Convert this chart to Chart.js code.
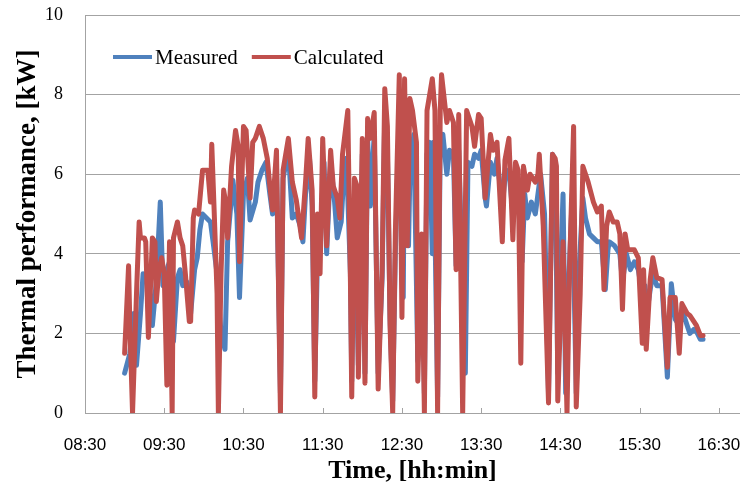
<!DOCTYPE html>
<html>
<head>
<meta charset="utf-8">
<script src="https://cdn.jsdelivr.net/npm/chart.js@4.4.1/dist/chart.umd.min.js"></script>
<style>
  html, body { margin: 0; padding: 0; background: #fff; }
  #wrap { width: 740px; height: 493px; }
</style>
</head>
<body>
<div id="wrap"><canvas id="chart" width="740" height="493"></canvas></div>
<script>
// time in minutes after midnight, power in kW
const calcTime = [
  540,543,544,546,549,551,552,555,556,558,
  560,561,563,564,566,568,570,572,574,576,
  577,580,582,584,586,589,590,592,593,596,
  599,602,603,605,606,608,610,611,613,615,
  617,618,621,624,626,627,630,632,635,637,
  639,642,645,648,650,652,655,658,660,664,
  667,670,674,677,679,682,684,686,688,690,
  693,696,698,701,703,705,709,711,712,714,
  716,717,720,722,724,726,729,732,735,737,
  739,741,743,745,748,750,752,754,756,758,
  761,762,765,767,769,771,773,775,777,779,
  780,783,784,786,789,791,793,796,799,803,
  805,808,810,813,817,819,822,826,828,831,
  834,836,838,840,842,845,847,851,853,854,
  857,861,864,866,867,868,872,875,877,880,
  882,885,887,891,895,898,901,903,905,907,
  910,913,915,917,919,921,926,929,932,933,
  935,938,940,943,947,951,953,957,960,962,
  966,968,970,973,976,978
];
const calcKW = [
  1.5,3.7,2.2,0,3.0,4.8,4.4,4.4,4.3,1.9,
  3.5,4.4,4.3,2.8,3.6,3.9,3.5,0.7,4.3,0,
  4.4,4.8,4.4,4.2,3.5,2.3,2.3,4.9,5.1,5.0,
  6.1,6.1,6.1,5.3,6.75,4.9,3.0,0,3.5,5.6,
  5.2,4.4,6.2,7.1,6.7,3.8,7.2,7.1,5.4,6.8,
  6.9,7.2,6.9,6.4,5.7,5.1,6.6,0,6.1,6.9,
  5.8,5.35,4.4,5.8,6.9,5.6,0.4,5.0,3.5,6.9,
  4.2,6.6,5.7,5.4,4.9,6.5,7.6,3.3,0.4,5.9,
  5.7,0.9,6.9,0.75,7.4,6.9,7.55,0.6,3.6,8.15,
  7.2,2.2,0,4.5,8.5,2.4,8.4,4.2,7.9,7.6,
  6.8,0.8,4.5,0,7.6,8.0,8.4,7.6,0,7.6,
  8.5,7.6,7.3,7.6,7.3,3.6,7.5,0,7.6,7.2,
  6.7,7.5,7.4,5.4,7.0,6.6,6.8,4.3,6.35,6.9,
  4.35,6.3,6.1,1.25,6.2,5.6,6.0,5.8,6.0,6.5,
  4.7,0.25,6.5,6.4,6.2,0.3,4.3,0,3.7,7.2,
  0.15,3.0,6.2,5.8,5.3,5.05,5.2,3.1,4.7,5.05,
  4.8,4.8,4.5,2.6,4.5,4.1,4.1,3.9,1.75,3.6,
  1.6,3.35,3.9,3.4,3.35,1.15,2.9,2.9,1.5,2.75,
  2.5,2.45,2.35,2.2,1.95,1.95
];
const measTime = [
  540,544,547,549,552,554,556,558,561,564,
  567,569,571,574,577,580,582,584,587,590,
  593,595,597,599,602,605,607,610,613,616,
  618,622,625,627,630,633,635,639,641,644,
  647,650,652,655,658,660,664,667,670,673,
  675,677,680,682,684,686,689,691,693,696,
  699,701,704,706,708,711,712,714,717,720,
  722,724,726,729,732,735,737,739,741,743,
  745,748,751,752,755,756,759,762,765,767,
  769,771,773,774,777,779,781,784,786,789,
  791,793,798,800,803,805,808,810,813,814,
  817,820,822,826,828,831,834,836,839,841,
  843,845,848,851,853,855,858,861,864,866,
  868,870,872,874,876,879,882,884,887,889,
  892,895,898,901,904,906,907,911,915,917,
  920,923,926,929,932,934,935,938,940,943,
  947,951,954,957,960,963,966,968,971,973,
  976,978
];
const measKW = [
  1.0,1.5,2.5,1.2,2.5,3.5,3.3,3.6,2.2,3.3,
  5.3,3.2,3.5,3.8,1.8,3.4,3.6,3.2,3.3,2.5,
  3.6,3.9,4.6,5.0,4.9,4.8,4.3,3.5,2.0,1.6,
  4.3,5.85,5.0,2.9,5.5,5.9,4.85,5.3,5.8,6.1,
  6.3,5.5,5.0,6.2,0.5,5.9,6.6,4.9,5.0,4.7,
  4.3,5.5,6.4,5.2,0.8,3.85,5.0,6.3,4.0,6.3,
  5.3,4.4,4.8,6.0,6.4,3.5,0.8,5.5,1.2,6.5,
  1.0,6.9,5.2,7.0,1.0,3.4,7.5,6.5,2.4,0.3,
  4.0,7.5,2.9,7.5,4.2,6.0,7.0,1.3,4.3,0.5,
  6.5,6.8,4.0,6.8,0.4,6.8,7.0,6.0,6.6,6.5,
  3.7,6.6,1.0,6.3,6.2,6.5,6.4,6.6,5.4,5.2,
  6.3,6.0,6.4,5.2,5.9,6.1,5.0,5.7,5.8,3.8,
  5.5,4.9,5.3,5.0,5.5,6.0,5.0,0.5,6.5,6.3,
  1.0,3.5,5.5,0.5,3.0,5.5,0.5,3.5,5.4,4.9,
  4.5,4.4,4.3,4.3,3.1,4.1,4.3,4.2,4.0,3.3,
  4.0,3.6,3.8,3.6,3.0,3.2,2.4,3.1,3.5,3.2,
  3.2,0.9,3.25,2.35,2.2,2.5,2.2,2.0,2.1,2.05,
  1.85,1.85
];
const tickTimes = [510, 570, 630, 690, 750, 810, 870, 930, 990];
const seriesNames = ['Measured', 'Calculated'];
const seriesColors = ['#4F81BD', '#C0504D'];

const gridColor = '#a3a3a3';
const serif = '"Liberation Serif", "Times New Roman", serif';

function hhmm(m) {
  const h = Math.floor(m / 60), mm = m % 60;
  return String(h).padStart(2, '0') + ':' + String(mm).padStart(2, '0');
}

const insideLegend = {
  id: 'insideLegend',
  afterDraw(chart) {
    const ctx = chart.ctx;
    ctx.save();
    ctx.font = '21px ' + serif;
    ctx.textBaseline = 'middle';
    let x = chart.chartArea.left + 28;
    const y = chart.chartArea.top + 42;
    seriesNames.forEach((name, i) => {
      ctx.strokeStyle = seriesColors[i];
      ctx.lineWidth = 4;
      ctx.beginPath();
      ctx.moveTo(x, y);
      ctx.lineTo(x + 39, y);
      ctx.stroke();
      ctx.fillStyle = '#000';
      ctx.fillText(name, x + 42, y + 1);
      x += 42 + ctx.measureText(name).width + 14;
    });
    ctx.restore();
  }
};

// small tick marks pointing up into the plot
const innerTicks = {
  id: 'innerTicks',
  beforeDatasetsDraw(chart) {
    const xs = chart.scales.x, ctx = chart.ctx;
    const bottom = chart.chartArea.bottom;
    ctx.save();
    ctx.strokeStyle = gridColor;
    ctx.lineWidth = 1;
    tickTimes.forEach(t => {
      const px = Math.round(xs.getPixelForValue(t)) + 0.5;
      ctx.beginPath();
      ctx.moveTo(px, bottom);
      ctx.lineTo(px, bottom - 5);
      ctx.stroke();
    });
    ctx.restore();
  }
};

new Chart(document.getElementById('chart'), {
  type: 'line',
  data: {
    datasets: [
      {
        label: seriesNames[0],
        data: measTime.map((t, i) => ({ x: t, y: measKW[i] })),
        borderColor: seriesColors[0],
        backgroundColor: seriesColors[0],
        borderWidth: 5,
        order: 2
      },
      {
        label: seriesNames[1],
        data: calcTime.map((t, i) => ({ x: t, y: calcKW[i] })),
        borderColor: seriesColors[1],
        backgroundColor: seriesColors[1],
        borderWidth: 5,
        order: 1
      }
    ]
  },
  options: {
    responsive: false,
    animation: false,
    devicePixelRatio: 1,
    layout: { padding: { top: 15, right: 0, left: 0, bottom: 0 } },
    plugins: { legend: { display: false }, tooltip: { enabled: false } },
    elements: {
      point: { radius: 0 },
      line: { tension: 0, borderJoinStyle: 'round', borderCapStyle: 'round' }
    },
    scales: {
      x: {
        type: 'linear',
        min: 510,
        max: 1006,
        afterBuildTicks: s => { s.ticks = tickTimes.map(v => ({ value: v })); },
        afterFit: s => { s.height = 80; s.paddingLeft = 0; s.paddingRight = 0; },
        grid: { display: false, drawTicks: false },
        border: { color: gridColor, width: 1 },
        ticks: {
          padding: 22, maxRotation: 0, autoSkip: false, color: '#000',
          font: { family: '"Liberation Sans", Arial, sans-serif', size: 17 },
          callback: v => hhmm(v)
        },
        title: {
          display: true, text: 'Time, [hh:min]', color: '#000',
          font: { family: serif, size: 26, weight: 'bold' },
          padding: { top: 0, bottom: 6 }
        }
      },
      y: {
        min: 0,
        max: 10,
        afterFit: s => { s.width = 85; s.paddingTop = 0; s.paddingBottom = 0; },
        grid: { color: gridColor, drawTicks: false },
        border: { color: gridColor, width: 1 },
        ticks: {
          stepSize: 2, padding: 22, color: '#000',
          font: { family: serif, size: 18 }
        },
        title: {
          display: true, text: 'Thermal performance, [kW]', color: '#000',
          font: { family: serif, size: 27, weight: 'bold' },
          padding: { top: 12, bottom: 0 }
        }
      }
    }
  },
  plugins: [innerTicks, insideLegend]
});
</script>
</body>
</html>
